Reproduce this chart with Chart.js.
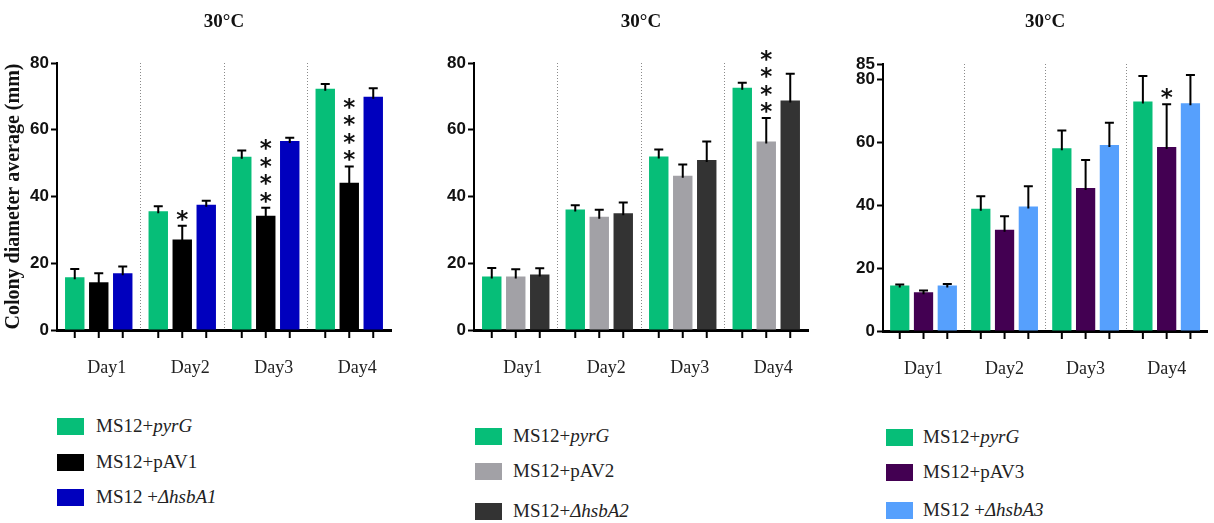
<!DOCTYPE html>
<html>
<head>
<meta charset="utf-8">
<script src="https://cdn.jsdelivr.net/npm/chart.js@4"></script>
<style>
  html, body { margin: 0; padding: 0; background: #fff; }
  body { width: 1214px; height: 523px; position: relative; overflow: hidden; }
  canvas { position: absolute; top: 0; }
  .leg { position: absolute; font-family: "Liberation Serif", "Times New Roman", serif; font-size: 19px; color: #222; }
  .row { position: absolute; left: 0; height: 17px; white-space: nowrap; }
  .sw { position: absolute; left: 0; top: 0; width: 27px; height: 17px; }
  .tx { position: absolute; top: -3px; line-height: 22px; font-family: "Liberation Serif", "Times New Roman", serif; }
</style>
</head>
<body>
<canvas id="c1" width="400" height="395" style="left:0px"></canvas>
<canvas id="c2" width="395" height="395" style="left:420px"></canvas>
<canvas id="c3" width="384" height="395" style="left:830px"></canvas>

<div class="leg" style="left:57px; top:0px;">
  <div class="row" style="top:418px"><div class="sw" style="background:#06BE78"></div><div class="tx" style="left:39px">MS12+<i>pyrG</i></div></div>
  <div class="row" style="top:454px"><div class="sw" style="background:#000000"></div><div class="tx" style="left:39px">MS12+pAV1</div></div>
  <div class="row" style="top:489px"><div class="sw" style="background:#0000BE"></div><div class="tx" style="left:39px">MS12 +<i>ΔhsbA1</i></div></div>
</div>
<div class="leg" style="left:475px; top:0px;">
  <div class="row" style="top:428px"><div class="sw" style="background:#06BE78"></div><div class="tx" style="left:38px">MS12+<i>pyrG</i></div></div>
  <div class="row" style="top:463px"><div class="sw" style="background:#A2A1A6"></div><div class="tx" style="left:38px">MS12+pAV2</div></div>
  <div class="row" style="top:503px"><div class="sw" style="background:#333333"></div><div class="tx" style="left:38px">MS12+<i>ΔhsbA2</i></div></div>
</div>
<div class="leg" style="left:886px; top:0px;">
  <div class="row" style="top:429px"><div class="sw" style="background:#06BE78"></div><div class="tx" style="left:37px">MS12+<i>pyrG</i></div></div>
  <div class="row" style="top:464px"><div class="sw" style="background:#430052"></div><div class="tx" style="left:37px">MS12+pAV3</div></div>
  <div class="row" style="top:502px"><div class="sw" style="background:#56A0FD"></div><div class="tx" style="left:37px">MS12 +<i>ΔhsbA3</i></div></div>
</div>

<script>
// ---------- DATA ----------
const categories = ['Day1', 'Day2', 'Day3', 'Day4'];
const panelTitle = '30°C';
const yAxisTitle = 'Colony diameter average (mm)';
const yTicksA = [0, 20, 40, 60, 80];
const yTicksC = [0, 20, 40, 60, 80, 85];

// Panel 1
const p1Names = ['MS12+pyrG', 'MS12+pAV1', 'MS12 +ΔhsbA1'];
const p1Pyrg = [15.8, 35.6, 51.9, 72.3];
const p1PyrgErr = [2.5, 1.5, 1.9, 1.4];
const p1Pav = [14.3, 27.1, 34.2, 44.1];
const p1PavErr = [2.7, 4.1, 2.4, 4.9];
const p1Hsb = [17.0, 37.5, 56.6, 69.9];
const p1HsbErr = [2.0, 1.2, 1.0, 2.5];
const p1PavSig = ['', '*', '****', '****'];

// Panel 2
const p2Names = ['MS12+pyrG', 'MS12+pAV2', 'MS12+ΔhsbA2'];
const p2Pyrg = [16.0, 36.1, 52.0, 72.6];
const p2PyrgErr = [2.6, 1.3, 2.1, 1.5];
const p2Pav = [16.0, 33.9, 46.2, 56.5];
const p2PavErr = [2.2, 2.1, 3.4, 7.0];
const p2Hsb = [16.6, 35.0, 50.9, 68.8];
const p2HsbErr = [1.9, 3.2, 5.6, 8.0];
const p2PavSig = ['', '', '', '****'];

// Panel 3
const p3Names = ['MS12+pyrG', 'MS12+pAV3', 'MS12 +ΔhsbA3'];
const p3Pyrg = [14.5, 38.9, 58.2, 73.1];
const p3PyrgErr = [0.3, 4.0, 5.6, 8.1];
const p3Pav = [12.3, 32.2, 45.5, 58.6];
const p3PavErr = [0.6, 4.3, 8.9, 13.6];
const p3Hsb = [14.5, 39.6, 59.2, 72.5];
const p3HsbErr = [0.5, 6.5, 7.1, 9.0];
const p3PavSig = ['', '', '', '*'];

// ---------- STYLE ----------
const GREEN = '#06BE78';
const SERIF = "'Liberation Serif', 'Times New Roman', serif";
const SANS = "'Liberation Sans', Arial, sans-serif";
const STARFONT = "'DejaVu Sans', sans-serif";

const annotPlugin = {
  id: 'annot',
  afterDatasetsDraw(chart) {
    const ctx = chart.ctx;
    const ys = chart.scales.y;
    const bottom = chart.chartArea.bottom;
    chart.data.datasets.forEach((ds, di) => {
      const meta = chart.getDatasetMeta(di);
      meta.data.forEach((bar, i) => {
        const v = ds.data[i];
        const e = ds.errors ? ds.errors[i] : 0;
        const yTop = ys.getPixelForValue(v + e);
        ctx.save();
        ctx.strokeStyle = '#000';
        ctx.lineWidth = 2;
        ctx.beginPath();
        ctx.moveTo(bar.x, bar.y + 2);
        ctx.lineTo(bar.x, yTop);
        ctx.moveTo(bar.x - 4.5, yTop);
        ctx.lineTo(bar.x + 4.5, yTop);
        ctx.stroke();
        // tick mark under each bar
        ctx.beginPath();
        ctx.moveTo(bar.x, bottom);
        ctx.lineTo(bar.x, bottom + 8);
        ctx.stroke();
        // significance stars
        const s = ds.sig ? ds.sig[i] : '';
        if (s) {
          ctx.fillStyle = '#111';
          ctx.font = 'bold 23px ' + STARFONT;
          ctx.textAlign = 'center';
          ctx.textBaseline = 'middle';
          for (let k = 0; k < s.length; k++) {
            const cy = yTop - 10 - k * 17.5;
            ctx.fillText('*', bar.x, cy + 5);
          }
        }
        ctx.restore();
      });
    });
  }
};

function makeChart(id, names, series, errs, colors, sig, opts) {
  const datasets = series.map((d, k) => ({
    label: names[k],
    data: d,
    errors: errs[k],
    sig: k === 1 ? sig : null,
    backgroundColor: colors[k],
    borderWidth: 0,
    categoryPercentage: opts.catPct,
    barPercentage: 0.81
  }));
  return new Chart(document.getElementById(id), {
    type: 'bar',
    data: { labels: categories, datasets },
    plugins: [annotPlugin],
    options: {
      responsive: false,
      animation: false,
      devicePixelRatio: 1,
      layout: { padding: { left: 0, right: opts.padRight, top: 0, bottom: 0 } },
      plugins: {
        legend: { display: false },
        tooltip: { enabled: false },
        title: {
          display: true,
          text: panelTitle,
          fullSize: false,
          color: '#111',
          font: { family: SERIF, size: 19, weight: 'bold', lineHeight: 1.2 },
          padding: { top: 11, bottom: opts.titleBottom }
        }
      },
      scales: {
        x: {
          type: 'category',
          offset: true,
          grid: {
            display: true,
            drawOnChartArea: true,
            drawTicks: false,
            offset: true,
            lineWidth: 1,
            color: (c) => (c.index > 0 && c.index < categories.length) ? '#8a8a8a' : 'rgba(0,0,0,0)'
          },
          border: { display: true, color: '#000', width: 3, dash: [1, 2] },
          ticks: {
            color: '#222',
            font: { family: SERIF, size: 18 },
            padding: 27,
            labelOffset: opts.labelOffset,
            maxRotation: 0
          },
          afterFit: (s) => { s.height = opts.xHeight; }
        },
        y: {
          min: 0,
          max: opts.yMax,
          afterBuildTicks: (s) => { s.ticks = opts.yTicks.map(v => ({ value: v })); },
          grid: {
            display: true,
            drawOnChartArea: false,
            drawTicks: true,
            tickLength: 6,
            tickWidth: 2,
            tickColor: '#000'
          },
          border: { display: true, color: '#000', width: 2 },
          ticks: {
            color: '#111',
            font: { family: SANS, size: 17, weight: 'bold' },
            padding: 2,
            autoSkip: false
          },
          title: {
            display: !!opts.showTitle,
            text: yAxisTitle,
            color: '#111',
            font: { family: SERIF, size: 20, weight: 'bold' },
            padding: { top: 2, bottom: 0 }
          },
          afterFit: (s) => { s.width = opts.yWidth; }
        }
      }
    }
  });
}

makeChart('c1', p1Names, [p1Pyrg, p1Pav, p1Hsb], [p1PyrgErr, p1PavErr, p1HsbErr],
  [GREEN, '#000000', '#0000BE'], p1PavSig,
  { yWidth: 57, padRight: 9, titleBottom: 29.2, xHeight: 65, yMax: 80, yTicks: yTicksA, catPct: 0.862, labelOffset: 8, showTitle: true });

makeChart('c2', p2Names, [p2Pyrg, p2Pav, p2Hsb], [p2PyrgErr, p2PavErr, p2HsbErr],
  [GREEN, '#A2A1A6', '#333333'], p2PavSig,
  { yWidth: 54, padRight: 7, titleBottom: 29.2, xHeight: 65, yMax: 80, yTicks: yTicksA, catPct: 0.862, labelOffset: 7, showTitle: false });

makeChart('c3', p3Names, [p3Pyrg, p3Pav, p3Hsb], [p3PyrgErr, p3PavErr, p3HsbErr],
  [GREEN, '#430052', '#56A0FD'], p3PavSig,
  { yWidth: 53, padRight: 4, titleBottom: 30.2, xHeight: 64, yMax: 85, yTicks: yTicksC, catPct: 0.88, labelOffset: 0, showTitle: false });
</script>
</body>
</html>
